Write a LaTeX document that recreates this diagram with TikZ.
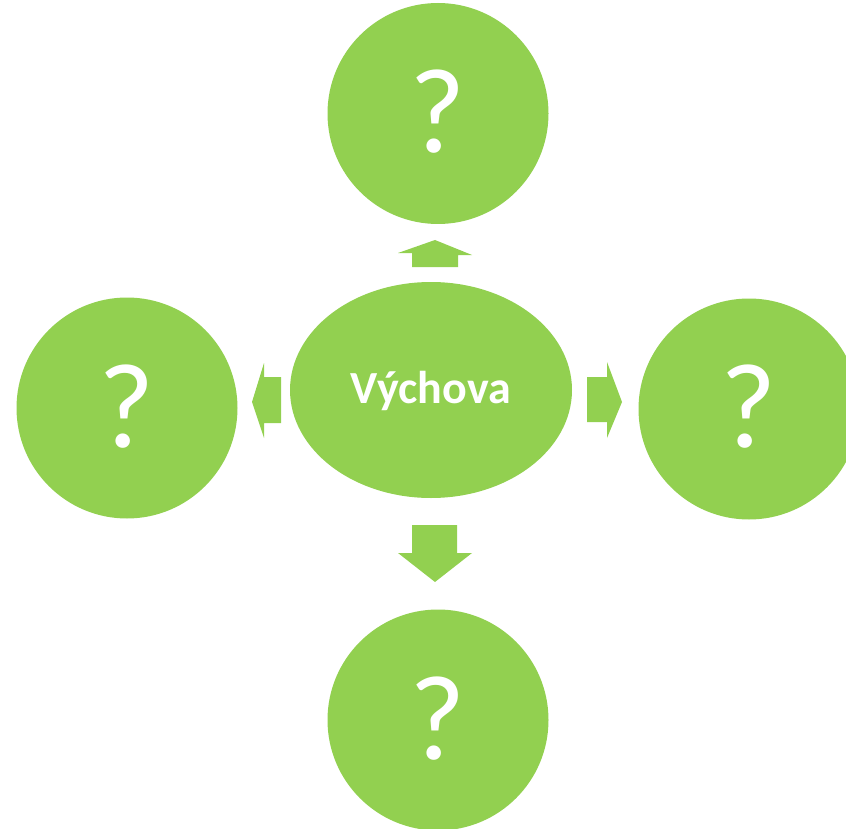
\documentclass[tikz,border=0pt]{standalone}
\usepackage{fontspec}
\setmainfont{Carlito}
\usetikzlibrary{shapes.geometric}
\definecolor{lgreen}{HTML}{92D050}
\tikzset{
  qcircle/.style={circle, fill=lgreen, draw=none, minimum size=221pt, inner sep=0pt,
    text=white, font=\fontsize{121}{121}\selectfont},
  hub/.style={ellipse, fill=lgreen, draw=none, minimum width=282pt, minimum height=216pt,
    inner sep=0pt, text=white, text height=36pt, text depth=10pt,
    font=\fontsize{46}{46}\selectfont\bfseries}
}
\begin{document}
\begin{tikzpicture}[x=1pt,y=-1pt]
\useasboundingbox (0,0) rectangle (846,829);
\node[hub] (c) at (431,390) {Výchova};
\node[qcircle] (t) at (438,113.5) {\raisebox{4pt}{?}};
\node[qcircle] (b) at (438,720) {\raisebox{4pt}{?}};
\node[qcircle] (l) at (127,408) {\raisebox{4pt}{?}};
\node[qcircle] (r) at (749,409) {\raisebox{6pt}{?}};
% block arrows
\fill[lgreen] (435,240) -- (472,255) -- (458,255) -- (458,267) -- (412,267) -- (412,253) -- (398,253) -- cycle;
\fill[lgreen] (412,525) -- (457,525) -- (457,553) -- (472,553) -- (435,582) -- (398,553) -- (412,553) -- cycle;
\fill[lgreen] (252,402) -- (264,363) -- (264,377) -- (281,377) -- (281,423) -- (264,423) -- (264,438) -- cycle;
\fill[lgreen] (587,377) -- (607,377) -- (607,362) -- (622,402) -- (607,438) -- (607,422) -- (587,422) -- cycle;
\end{tikzpicture}
\end{document}
